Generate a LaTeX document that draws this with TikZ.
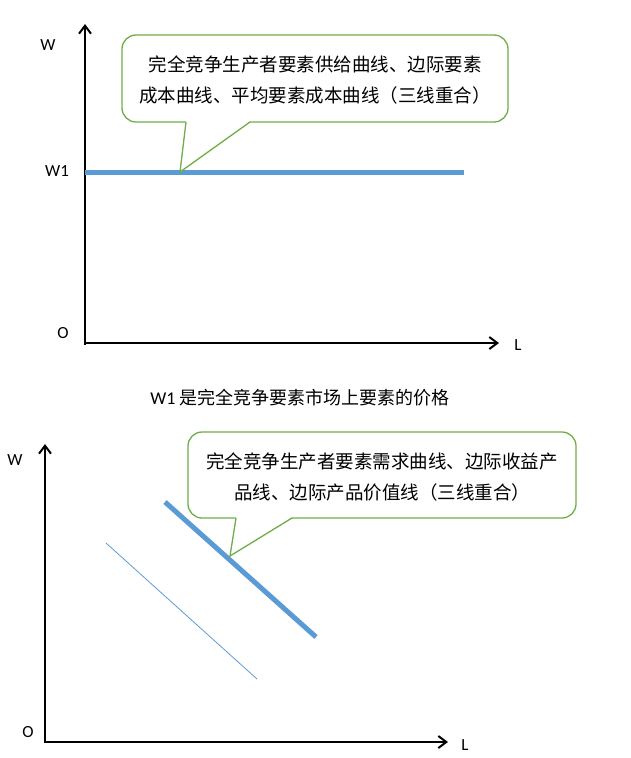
\documentclass[tikz,border=0pt]{standalone}
\usetikzlibrary{arrows.meta}
\usepackage{fontspec}
\setmainfont{Carlito}
\newfontfamily\cjk{Noto Sans CJK SC}
\begin{document}
\begin{tikzpicture}[x=1pt,y=-1pt,
  ax/.style={line width=2pt,-{Straight Barb[length=8pt,width=12pt]}},
  blue/.style={draw=curveblue,line width=5pt},
  callout/.style={draw=calgreen,fill=white,line width=1.3pt,rounded corners=14pt},
  lab/.style={font=\fontsize{17}{17}\selectfont},
  ctext/.style={font=\cjk\fontsize{18.5}{31}\selectfont,align=center}]
\definecolor{curveblue}{HTML}{5B9BD5}
\definecolor{calgreen}{HTML}{70AD47}
\useasboundingbox (0,0) rectangle (630,758);
% top chart
\coordinate (o1) at (85,343);
\coordinate (ytop1) at (85,24);
\coordinate (xend1) at (499,343);
\draw[ax] (85,345) -- (ytop1);
\draw[ax] (o1) -- (xend1);
\node[lab] (w) at (48,45) {W};
\node[lab] (w1) at (57,171) {W1};
\node[lab] (o) at (63,333) {O};
\node[lab] (l) at (518,345) {L};
\coordinate (b1s) at (85,172);
\coordinate (b1e) at (464,172);
\draw[blue] (b1s) -- (b1e);
\coordinate (tip1) at (180,172);
\draw[callout] (122,35) rectangle (508,122);
\fill[white] (186,121) -- (tip1) -- (250,121) -- cycle;
\draw[calgreen,line width=1.3pt] (186,122) -- (tip1) -- (250,122);
\node[ctext] (t1) at (315,80) {完全竞争生产者要素供给曲线、边际要素\\成本曲线、平均要素成本曲线（三线重合）};
\node[font=\fontsize{18}{18}\selectfont] (cap) at (300,398) {W1 {\cjk 是完全竞争要素市场上要素的价格}};
% bottom chart
\coordinate (o2) at (45,742);
\coordinate (ytop2) at (45,444);
\coordinate (xend2) at (448,742);
\draw[ax] (45,743) -- (ytop2);
\draw[ax] (o2) -- (xend2);
\node[lab] (w2) at (15,460) {W};
\node[lab] (oo) at (28,732) {O};
\node[lab] (l2) at (465,745) {L};
\coordinate (b2s) at (165,502);
\coordinate (b2e) at (316,637);
\draw[blue] (b2s) -- (b2e);
\coordinate (t2s) at (106,543);
\coordinate (t2e) at (257,679);
\draw[curveblue,line width=0.8pt] (t2s) -- (t2e);
\coordinate (tip2) at (230,556);
\draw[callout] (188,432) rectangle (576,518);
\fill[white] (236,517) -- (tip2) -- (292,517) -- cycle;
\draw[calgreen,line width=1.3pt] (236,518) -- (tip2) -- (292,518);
\node[ctext] (t2) at (382,477) {完全竞争生产者要素需求曲线、边际收益产\\品线、边际产品价值线（三线重合）};
\end{tikzpicture}
\end{document}
